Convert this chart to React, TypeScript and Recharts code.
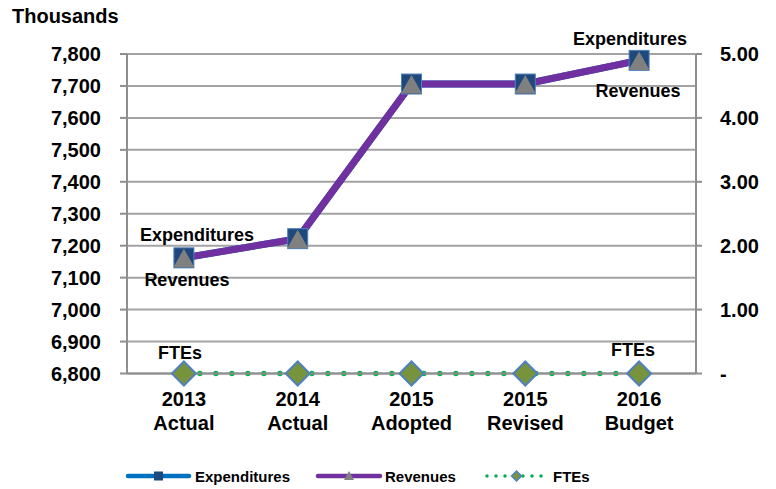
import { ComposedChart, Line, XAxis, YAxis, CartesianGrid, Legend } from 'recharts'

// chart values
const YEARS = ['2013', '2014', '2015', '2015', '2016']
const STAGES = ['Actual', 'Actual', 'Adopted', 'Revised', 'Budget']
const EXPENDITURES = [7162, 7222, 7706, 7706, 7780]
const REVENUES = [7162, 7222, 7706, 7706, 7780]
const FTES = [0, 0, 0, 0, 0]
const LEFT_TICKS = [6800, 6900, 7000, 7100, 7200, 7300, 7400, 7500, 7600, 7700, 7800]
const RIGHT_TICKS = [0, 1, 2, 3, 4, 5]
const BOUNDARY_TICKS = [0, 1, 2, 3, 4, 5]
const SERIES_ORDER = ['Expenditures', 'Revenues', 'FTEs']

const data = YEARS.map((year, i) => ({
  name: `${year}\n${STAGES[i]}`,
  Expenditures: EXPENDITURES[i],
  Revenues: REVENUES[i],
  FTEs: FTES[i],
}))

const FONT = '"Liberation Sans", Arial, sans-serif'
const GRID = '#A3A3A3'
const AXIS = '#8E8E8E'

const BLUE = '#0070C0'
const NAVY = '#1F497D'
const PURPLE = '#7030A0'
const GRAY = '#808080'
const GREEN = '#00B050'
const OLIVE = '#77933C'
const LIGHT_BLUE = '#4F81BD'

// end-point label offsets [first, last] relative to the marker
const LABEL_OFFSETS: Record<string, number[][]> = {
  Expenditures: [[13, -23], [-9, -22]],
  Revenues: [[3, 22], [-1, 30]],
  FTEs: [[-4, -21], [-6, -24]],
}

const endLabel = (name: string, cx: number, cy: number, index: number) => {
  const last = data.length - 1
  if (index !== 0 && index !== last) return null
  const [dx, dy] = LABEL_OFFSETS[name][index === 0 ? 0 : 1]
  return (
    <text x={cx + dx} y={cy + dy + 6.5} textAnchor="middle" fontFamily={FONT} fontWeight="bold" fontSize={18} fill="#000">
      {name}
    </text>
  )
}

const squareDot = (p: any) => {
  const { cx, cy, index } = p
  return (
    <g key={`exp-${index}`}>
      <rect x={cx - 10} y={cy - 10} width={20} height={20} fill={NAVY} stroke={LIGHT_BLUE} strokeWidth={1} />
      {endLabel('Expenditures', cx, cy, index)}
    </g>
  )
}

const triangleDot = (p: any) => {
  const { cx, cy, index } = p
  return (
    <g key={`rev-${index}`}>
      <polygon points={`${cx},${cy - 9} ${cx + 10.5},${cy + 9.5} ${cx - 10.5},${cy + 9.5}`} fill={GRAY} />
      {endLabel('Revenues', cx, cy, index)}
    </g>
  )
}

const diamondDot = (p: any) => {
  const { cx, cy, index } = p
  return (
    <g key={`fte-${index}`}>
      <polygon points={`${cx},${cy - 12} ${cx + 12},${cy} ${cx},${cy + 12} ${cx - 12},${cy}`} fill={OLIVE} stroke={LIGHT_BLUE} strokeWidth={2} />
      {endLabel('FTEs', cx, cy, index)}
    </g>
  )
}

const CategoryTick = (props: any) => {
  const { x, y, payload } = props
  const [year, stage] = String(payload.value).split('\n')
  return (
    <text textAnchor="middle" fontFamily={FONT} fontWeight="bold" fontSize={20} fill="#000">
      <tspan x={x} y={y + 32.5}>{year}</tspan>
      <tspan x={x} y={y + 56.5}>{stage}</tspan>
    </text>
  )
}

const LEGEND_LAYOUT: Record<string, { x: number; len: number; textX: number }> = {
  Expenditures: { x: 128, len: 61, textX: 195 },
  Revenues: { x: 318, len: 62, textX: 385 },
  FTEs: { x: 487, len: 55, textX: 553 },
}

const legendMarker = (name: string, cx: number, cy: number) => {
  if (name === 'Expenditures') return <rect x={cx - 4.5} y={cy - 4.5} width={9} height={9} fill={NAVY} />
  if (name === 'Revenues') return <polygon points={`${cx},${cy - 5} ${cx + 5},${cy + 4} ${cx - 5},${cy + 4}`} fill={GRAY} />
  return <polygon points={`${cx},${cy - 5} ${cx + 5},${cy} ${cx},${cy + 5} ${cx - 5},${cy}`} fill={OLIVE} stroke={LIGHT_BLUE} strokeWidth={1.5} />
}

const renderLegend = (props: any) => {
  const items = props.payload || []
  const ordered = SERIES_ORDER.map((n) => items.find((e: any) => e.value === n)).filter(Boolean)
  return (
    <svg width={776} height={24}>
      {ordered.map((entry: any) => {
        const l = LEGEND_LAYOUT[entry.value]
        const dotted = entry.value === 'FTEs'
        return (
          <g key={entry.value}>
            <line
              x1={l.x}
              y1={12}
              x2={l.x + l.len}
              y2={12}
              stroke={entry.color}
              strokeWidth={dotted ? 3.5 : 4.5}
              strokeLinecap="round"
              strokeDasharray={dotted ? '0 9' : undefined}
            />
            {legendMarker(entry.value, l.x + l.len / 2 + (dotted ? 2 : 0), 12)}
            <text x={l.textX} y={17.5} fontFamily={FONT} fontWeight="bold" fontSize={15} fill="#000">
              {entry.value}
            </text>
          </g>
        )
      })}
    </svg>
  )
}

export default function App() {
  const tickStyle = { fontFamily: FONT, fontWeight: 'bold', fontSize: 20, fill: '#000' }
  return (
    <div style={{ position: 'absolute', left: 0, top: 0, width: 776, height: 489, background: '#fff' }}>
      <div style={{ position: 'absolute', left: 12, top: 6, fontFamily: FONT, fontWeight: 'bold', fontSize: 20, lineHeight: '20px' }}>
        Thousands
      </div>
      <ComposedChart width={776} height={489} data={data} margin={{ top: 54, right: 0, bottom: 0, left: 0 }}>
        <CartesianGrid vertical={false} stroke={GRID} strokeWidth={2} yAxisId="left" />
        <XAxis
          dataKey="name"
          scale="band"
          height={115.5}
          tickLine={false}
          tickSize={0}
          tickMargin={0}
          interval={0}
          axisLine={{ stroke: AXIS, strokeWidth: 2 }}
          tick={<CategoryTick />}
        />
        <XAxis
          xAxisId="top"
          type="number"
          orientation="top"
          mirror
          domain={[0, 5]}
          allowDataOverflow
          ticks={BOUNDARY_TICKS}
          tick={false}
          tickSize={7}
          axisLine={false}
          tickLine={{ stroke: AXIS, strokeWidth: 2 }}
        />
        <YAxis
          yAxisId="left"
          width={127}
          domain={[6800, 7800]}
          ticks={LEFT_TICKS}
          interval={0}
          tickSize={7}
          tickMargin={19}
          tickFormatter={(v: number) => v.toLocaleString('en-US')}
          axisLine={{ stroke: AXIS, strokeWidth: 2 }}
          tickLine={{ stroke: AXIS, strokeWidth: 2 }}
          tick={tickStyle}
        />
        <YAxis
          yAxisId="right"
          orientation="right"
          width={80}
          domain={[0, 5]}
          ticks={RIGHT_TICKS}
          interval={0}
          tickSize={6}
          tickMargin={18}
          tickFormatter={(v: number) => (v === 0 ? '-' : v.toFixed(2))}
          axisLine={{ stroke: AXIS, strokeWidth: 2 }}
          tickLine={{ stroke: AXIS, strokeWidth: 2 }}
          tick={tickStyle}
        />
        <Legend
          layout="horizontal"
          verticalAlign="middle"
          align="center"
          wrapperStyle={{ top: 464, left: 0, width: 776, height: 24 }}
          content={renderLegend}
        />
        <Line
          yAxisId="left"
          dataKey="Expenditures"
          stroke={BLUE}
          strokeWidth={7}
          dot={squareDot}
          activeDot={false}
          isAnimationActive={false}
        />
        <Line
          yAxisId="left"
          dataKey="Revenues"
          stroke={PURPLE}
          strokeWidth={7}
          dot={triangleDot}
          activeDot={false}
          isAnimationActive={false}
        />
        <Line
          yAxisId="right"
          dataKey="FTEs"
          stroke={GREEN}
          strokeWidth={5.5}
          strokeLinecap="round"
          strokeDasharray="0 16"
          dot={diamondDot}
          activeDot={false}
          isAnimationActive={false}
        />
      </ComposedChart>
    </div>
  )
}
